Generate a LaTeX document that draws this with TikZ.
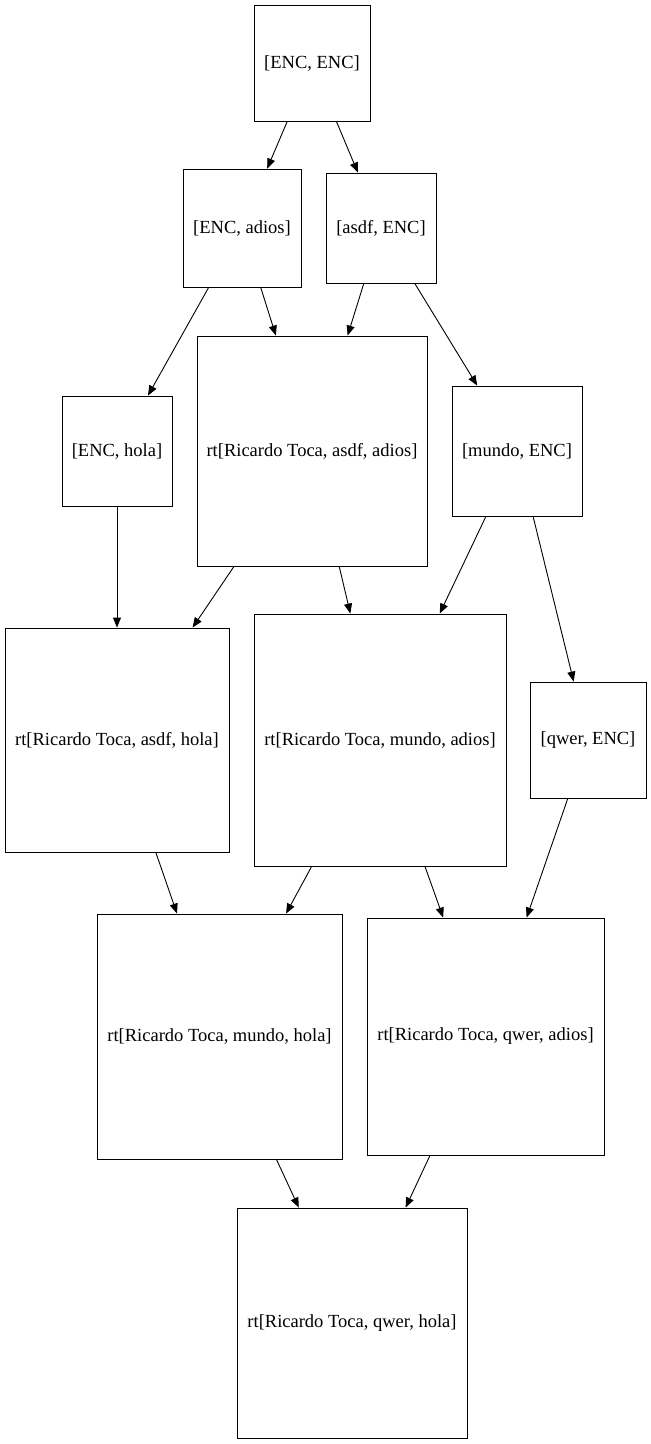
\documentclass[tikz,border=0pt]{standalone}
\usepackage{fontspec}
\setmainfont{Liberation Serif}
\usetikzlibrary{arrows.meta}
\begin{document}
\begin{tikzpicture}[x=1pt,y=-1pt,
  box/.style={draw, line width=0.9pt, inner sep=0pt, font=\fontsize{18.5}{22}\selectfont},
  edge/.style={draw, line width=0.9pt, -{Triangle[length=10pt,width=8pt]}}]
\useasboundingbox (0,0) rectangle (651,1444);
\newcommand{\bx}[6]{\node[box, minimum width=#4pt, minimum height=#5pt] (#1) at (#2,#3) {#6};}
\bx{n1}{312}{63}{116}{116}{[ENC, ENC]}
\bx{n2}{242}{228}{118}{118}{[ENC, adios]}
\bx{n3}{381}{228}{110}{110}{[asdf, ENC]}
\bx{n4}{117}{451}{110}{110}{[ENC, hola]}
\bx{n5}{312}{451}{230}{230}{rt[Ricardo Toca, asdf, adios]}
\bx{n6}{517}{451}{130}{130}{[mundo, ENC]}
\bx{n7}{117}{740}{224}{224}{rt[Ricardo Toca, asdf, hola]}
\bx{n8}{380}{740}{252}{252}{rt[Ricardo Toca, mundo, adios]}
\bx{n9}{588}{740}{116}{116}{[qwer, ENC]}
\bx{n10}{219.5}{1036.5}{245}{245}{rt[Ricardo Toca, mundo, hola]}
\bx{n11}{485.5}{1036.5}{237}{237}{rt[Ricardo Toca, qwer, adios]}
\bx{n12}{352}{1323}{230}{230}{rt[Ricardo Toca, qwer, hola]}
\foreach \a/\b in {n1/n2,n1/n3,n2/n4,n2/n5,n3/n5,n3/n6,n4/n7,n5/n7,n5/n8,n6/n8,n6/n9,n7/n10,n8/n10,n8/n11,n9/n11,n10/n12,n11/n12}
  \draw[edge] (\a) -- (\b);
\end{tikzpicture}
\end{document}
